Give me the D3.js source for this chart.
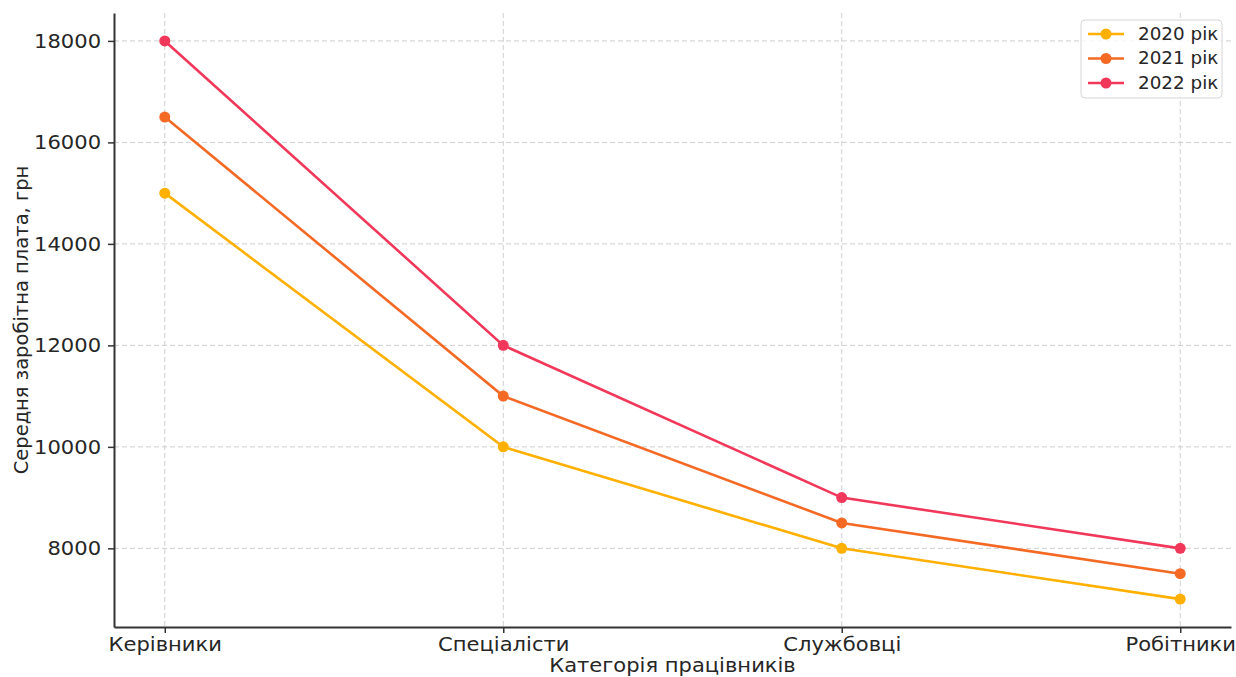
<!DOCTYPE html>
<html>
<head>
<meta charset="utf-8">
<script src="https://cdn.jsdelivr.net/npm/d3@7"></script>
<style>
  body { margin: 0; background: #fff; }
  text { font-family: "DejaVu Sans", sans-serif; fill: #262626; }
</style>
</head>
<body>
<script>
const categories = ["Керівники", "Спеціалісти", "Службовці", "Робітники"];
const years = ["2020 рік", "2021 рік", "2022 рік"];
const values2020 = [15000, 10000, 8000, 7000];
const values2021 = [16500, 11000, 8500, 7500];
const values2022 = [18000, 12000, 9000, 8000];
const yTicks = [8000, 10000, 12000, 14000, 16000, 18000];
const colors = ["#ffb000", "#f46a25", "#f1385a"];

const series = [values2020, values2021, values2022].map((v, i) => ({ name: years[i], values: v, color: colors[i] }));

const width = 1236, height = 677;
const margin = { top: 13, right: 5, bottom: 50, left: 114 };
const stretch = 1.08; // reference text is a bit wider than tall

const svg = d3.select("body").append("svg")
  .attr("width", width)
  .attr("height", height);

const x = d3.scaleLinear()
  .domain([-0.15, 3.15])
  .range([margin.left, width - margin.right]);

const y = d3.scaleLinear()
  .domain([6450, 18550])
  .range([height - margin.bottom, margin.top]);

// grid
const grid = svg.append("g")
  .attr("stroke", "#cfcfcf")
  .attr("stroke-width", 1)
  .attr("stroke-dasharray", "5,3");
grid.selectAll(".gy").data(yTicks).join("line")
  .attr("x1", margin.left).attr("x2", width - margin.right)
  .attr("y1", d => y(d)).attr("y2", d => y(d));
grid.selectAll(".gx").data(categories).join("line")
  .attr("x1", (d, i) => x(i)).attr("x2", (d, i) => x(i))
  .attr("y1", margin.top).attr("y2", height - margin.bottom);

// axes
const yAxis = svg.append("g")
  .attr("transform", `translate(${margin.left},0)`)
  .call(d3.axisLeft(y).tickValues(yTicks).tickFormat(d3.format("d")).tickSize(6).tickPadding(6).tickSizeOuter(0));
const xAxis = svg.append("g")
  .attr("transform", `translate(0,${height - margin.bottom})`)
  .call(d3.axisBottom(x).tickValues(d3.range(categories.length)).tickFormat(i => categories[i]).tickSize(6).tickPadding(4).tickSizeOuter(0));

[xAxis, yAxis].forEach(g => {
  g.selectAll(".domain").attr("stroke", "#333").attr("stroke-width", 2);
  g.selectAll(".tick line").attr("stroke", "#333").attr("stroke-width", 1.5);
  g.selectAll(".tick text").attr("font-size", 19.5).attr("fill", "#262626")
    .attr("transform", `scale(${stretch},1)`);
});

// lines
const line = d3.line()
  .x((d, i) => x(i))
  .y(d => y(d));

series.forEach(s => {
  svg.append("path")
    .datum(s.values)
    .attr("fill", "none")
    .attr("stroke", s.color)
    .attr("stroke-width", 2.6)
    .attr("d", line);
  svg.append("g").selectAll("circle").data(s.values).join("circle")
    .attr("cx", (d, i) => x(i))
    .attr("cy", d => y(d))
    .attr("r", 5.5)
    .attr("fill", s.color);
});

// axis labels
svg.append("text")
  .attr("transform", `translate(${(margin.left + width - margin.right) / 2},672) scale(${stretch},1)`)
  .attr("text-anchor", "middle")
  .attr("font-size", 19.5)
  .text("Категорія працівників");

svg.append("text")
  .attr("transform", `translate(28,${(margin.top + height - margin.bottom) / 2}) rotate(-90)`)
  .attr("text-anchor", "middle")
  .attr("font-size", 19.5)
  .text("Середня заробітна плата, грн");

// legend
const legend = svg.append("g").attr("transform", "translate(1081,20)");
legend.append("rect")
  .attr("width", 141).attr("height", 78)
  .attr("rx", 4)
  .attr("fill", "#fff").attr("fill-opacity", 0.8)
  .attr("stroke", "#d6d6d6");
series.forEach((s, i) => {
  const g = legend.append("g").attr("transform", `translate(0,${14 + i * 24.5})`);
  g.append("line").attr("x1", 7).attr("x2", 43).attr("stroke", s.color).attr("stroke-width", 2.6);
  g.append("circle").attr("cx", 25).attr("r", 5.5).attr("fill", s.color);
  g.append("text").attr("transform", `translate(57,0) scale(${stretch},1)`)
    .attr("dy", "0.35em").attr("font-size", 17).text(s.name);
});
</script>
</body>
</html>
